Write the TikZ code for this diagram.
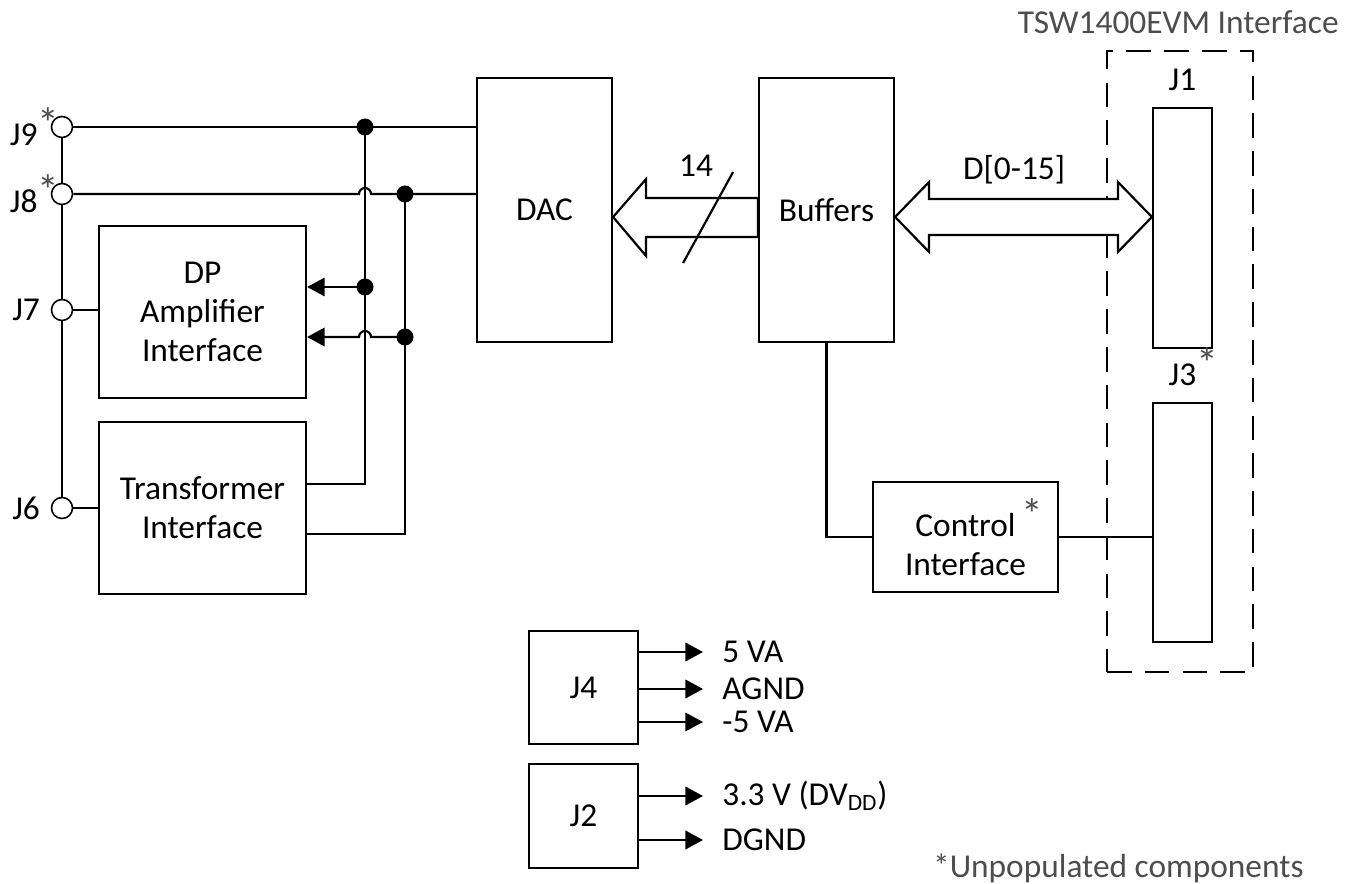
\documentclass[tikz,border=0pt]{standalone}
\usepackage{fontspec}
\usepackage{graphicx}
\setmainfont{Carlito}
\usetikzlibrary{arrows.meta,calc}

\newcommand{\astmark}{\textcolor{noteColour}{\raisebox{.22em}{\scalebox{1.3}{*}}}}

\begin{document}
\begin{tikzpicture}[x=0.02cm, y=-0.02cm,
    every node/.style={font=\fontsize{19}{22}\selectfont},
    blk/.style={draw, line width=1.25pt, align=center, inner sep=0pt},
    jack/.style={draw, circle, fill=white, line width=0.9pt, minimum size=0.42cm, inner sep=0pt},
    wire/.style={line width=1.25pt},
    sig/.style={wire, -{Triangle[length=10pt, width=10.5pt]}},
    bus/.style={line width=1.25pt, fill=white, line join=miter},
    note/.style={text=noteColour},
    outl/.style={anchor=west, inner ysep=0pt, inner xsep=0.38cm}]
    \definecolor{noteColour}{HTML}{4D4D4D}

    \useasboundingbox (0,0) rectangle (1356,884);

    % EVM frame
    \node[draw, line width=1.6pt, dash pattern=on 14pt off 7.5pt,
          minimum width=2.92cm, minimum height=12.42cm] (evm) at (1180,361.5) {};
    \node[note, anchor=east, inner sep=0pt] (evmTitle) at (1339,22) {TSW1400EVM Interface};

    % Jacks
    \node[jack, label={[inner sep=0pt, label distance=-5pt]left:J9\astmark}] (J9) at (62,127) {};
    \node[jack, label={[inner sep=0pt, label distance=-5pt]left:J8\astmark}] (J8) at (62,194) {};
    \node[jack, label={[inner sep=0pt, label distance=6pt]left:J7}] (J7) at (62,310) {};
    \node[jack, label={[inner sep=0pt, label distance=6pt]left:J6}] (J6) at (62,508) {};

    % Blocks
    \node[blk, minimum width=4.14cm, minimum height=3.44cm] (DP) at (202.5,312) {DP\\Amplifier\\Interface};
    \node[blk, minimum width=4.14cm, minimum height=3.44cm] (Tr) at (202.5,508) {Transformer\\Interface};
    \node[blk, minimum width=2.7cm, minimum height=5.28cm] (DAC) at (544.5,210) {DAC};
    \node[blk, minimum width=2.7cm, minimum height=5.28cm] (Buf) at (826.5,210) {Buffers};
    \node[blk, minimum width=3.7cm, minimum height=2.2cm] (Ctl) at (965.5,537) {Control\rlap{\,\astmark}\\Interface};
    \node[blk, minimum width=1.18cm, minimum height=4.8cm,
          label={[inner sep=0pt, label distance=9pt]above:J1}] (J1) at (1182.5,228) {};
    \node[blk, minimum width=1.18cm, minimum height=4.78cm,
          label={[inner sep=0pt, label distance=9pt]above:J3\rlap{\astmark}}] (J3) at (1182.5,522.5) {};
    \node[blk, minimum width=2.18cm, minimum height=2.26cm] (J4) at (583.5,687.5) {J4};
    \node[blk, minimum width=2.18cm, minimum height=2.08cm] (J2) at (583.5,816) {J2};

    % Junctions
    \coordinate (dA1) at (365,127);
    \coordinate (dA2) at (365,287);
    \coordinate (dB1) at (405,194);
    \coordinate (dB2) at (405,337);
    \coordinate (trA) at ($(Tr.east)+(0,-24)$);
    \coordinate (trB) at ($(Tr.east)+(0,26)$);

    % Analog side
    \draw[wire] (J9) -- (J8) -- (J7) -- (J6);
    \draw[wire] (J7) -- (J7 -| DP.west);
    \draw[wire] (J6) -- (J6 -| Tr.west);
    \draw[wire] (J9) -- (J9 -| DAC.west);
    \draw[wire] (J8) -- ($(J8 -| dA1)+(-6,0)$) arc[start angle=180, end angle=0, radius=0.12cm] -- (J8 -| DAC.west);
    \draw[wire] (dA1) |- (trA);
    \draw[wire] (dB1) |- (trB);
    \draw[sig, line width=0.9pt] (dA2) -- (dA2 -| DP.east);
    \draw[sig] (dB2) -- ($(dB2 -| dA1)+(6,0)$) arc[start angle=0, end angle=180, radius=0.12cm] -- (dB2 -| DP.east);
    \foreach \d in {dA1,dA2,dB1,dB2}
        \fill (\d) circle (0.17cm);

    % Data buses
    \coordinate (tipD) at ($(DAC.east)+(0,7)$);
    \draw[bus] (tipD) -- ++(33,-38) -- ++(0,19) -- ($(tipD -| Buf.west)+(0,-19)$) -- ++(0,39)
        -- ($(tipD)+(33,20)$) -- ++(0,19) -- cycle;
    \draw[wire] ($(tipD)+(70,46)$) -- ++(50,-91);
    \node (n14) at ($(tipD)+(83,-51)$) {14};

    \coordinate (tipL) at ($(Buf.east)+(0,7)$);
    \coordinate (tipR) at (tipL -| J1.west);
    \draw[bus] (tipL) -- ++(34,-35) -- ++(0,17) -- ($(tipR)+(-34,-18)$) -- ++(0,-17) -- (tipR)
        -- ++(-34,35) -- ++(0,-17) -- ($(tipL)+(34,18)$) -- ++(0,17) -- cycle;
    \node (dbus) at ($(tipL)+(119,-47)$) {D[0-15]};

    % Control path
    \draw[wire] (Buf.south) |- (Ctl.west);
    \draw[wire] (Ctl.east) -- (Ctl.east -| J3.west);

    % Power outputs
    \node[outl] (v5) at (703,652) {5 VA};
    \node[outl] (agnd) at (703,689) {AGND};
    \node[outl] (vm5) at (703,722) {-5 VA};
    \node[outl] (dvdd) at (703,796) {3.3 V (DV\textsubscript{DD})};
    \node[outl] (dgnd) at (703,840) {DGND};
    \draw[sig] (J4.east |- v5) -- (v5.west);
    \draw[sig] (J4.east |- agnd) -- (agnd.west);
    \draw[sig, line width=0.9pt] (J4.east |- vm5) -- (vm5.west);
    \draw[sig] (J2.east |- dvdd) -- (dvdd.west);
    \draw[sig] (J2.east |- dgnd) -- (dgnd.west);

    \node[note, anchor=east, inner sep=0pt] (unpop) at (1304,868) {*Unpopulated components};

\end{tikzpicture}
\end{document}
